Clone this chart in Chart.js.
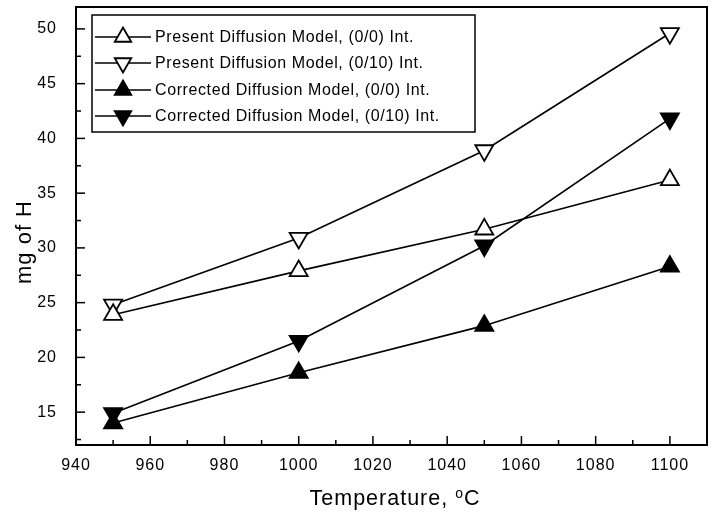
<!DOCTYPE html>
<html>
<head>
<meta charset="utf-8">
<script src="https://cdn.jsdelivr.net/npm/chart.js@4/dist/chart.umd.min.js"></script>
<style>
  html, body { margin: 0; padding: 0; background: #fff; }
  #wrap { width: 712px; height: 517px; position: relative; }
</style>
</head>
<body>
<div id="wrap"><canvas id="c" width="712" height="517"></canvas></div>
<script>
const temperatures = [950, 1000, 1050, 1100];
const presentInt0 = [23.9, 27.9, 31.7, 36.2];
const presentInt10 = [24.8, 30.9, 38.9, 49.6];
const correctedInt0 = [14.0, 18.6, 22.9, 28.3];
const correctedInt10 = [14.9, 21.5, 30.2, 41.8];
const xTickValues = [940, 960, 980, 1000, 1020, 1040, 1060, 1080, 1100];
const yTickValues = [15, 20, 25, 30, 35, 40, 45, 50];
const seriesLabels = [
  'Present Diffusion Model, (0/0) Int.',
  'Present Diffusion Model, (0/10) Int.',
  'Corrected Diffusion Model, (0/0) Int.',
  'Corrected Diffusion Model, (0/10) Int.'
];
const xTitle = 'Temperature, ';
const yTitle = 'mg of H';

const FONT = '"Liberation Sans", Arial, Helvetica, sans-serif';

function pts(vals) { return temperatures.map((t, i) => ({x: t, y: vals[i]})); }

const styles = [
  {fill: '#fff', rot: 0},
  {fill: '#fff', rot: 180},
  {fill: '#000', rot: 0},
  {fill: '#000', rot: 180}
];
const allVals = [presentInt0, presentInt10, correctedInt0, correctedInt10];

const datasets = allVals.map((v, i) => ({
  label: seriesLabels[i],
  data: pts(v),
  borderColor: '#000',
  borderWidth: 1.6,
  pointStyle: 'triangle',
  pointRotation: styles[i].rot,
  pointRadius: 10.4,
  pointHoverRadius: 10.4,
  pointBackgroundColor: styles[i].fill,
  pointBorderColor: '#000',
  pointBorderWidth: 1.8,
  tension: 0,
  fill: false,
  clip: false
}));

function drawTri(ctx, x, y, r, rot, fill) {
  ctx.save();
  ctx.translate(x, y);
  ctx.rotate(rot * Math.PI / 180);
  ctx.beginPath();
  for (let k = 0; k < 3; k++) {
    const a = -Math.PI / 2 + k * 2 * Math.PI / 3;
    const px = r * Math.cos(a), py = r * Math.sin(a);
    if (k === 0) ctx.moveTo(px, py); else ctx.lineTo(px, py);
  }
  ctx.closePath();
  ctx.fillStyle = fill;
  ctx.fill();
  ctx.lineWidth = 1.8;
  ctx.strokeStyle = '#000';
  ctx.stroke();
  ctx.restore();
}

const spacingPlugin = {
  id: 'spacing',
  beforeLayout(chart) { chart.ctx.letterSpacing = '1px'; },
  beforeDraw(chart) { chart.ctx.letterSpacing = '1px'; }
};

const framePlugin = {
  id: 'frame',
  afterDraw(chart) {
    const {ctx, chartArea: a, scales} = chart;
    const xs = scales.x, ys = scales.y;
    ctx.save();
    ctx.letterSpacing = '1px';
    ctx.strokeStyle = '#000';
    ctx.lineWidth = 2;
    ctx.strokeRect(a.left, a.top, a.right - a.left, a.bottom - a.top);
    ctx.lineWidth = 1.5;
    for (let v = 950; v <= 1100; v += 10) {
      const px = xs.getPixelForValue(v);
      const len = (v % 20 === 0) ? 9 : 5;
      ctx.beginPath(); ctx.moveTo(px, a.bottom); ctx.lineTo(px, a.bottom - len); ctx.stroke();
    }
    for (let v = 12.5; v <= 51; v += 2.5) {
      const py = ys.getPixelForValue(v);
      const len = (v % 5 === 0) ? 9 : 5;
      ctx.beginPath(); ctx.moveTo(a.left, py); ctx.lineTo(a.left + len, py); ctx.stroke();
    }
    // x title
    ctx.fillStyle = '#000';
    ctx.textBaseline = 'alphabetic';
    ctx.textAlign = 'left';
    ctx.font = '21.5px ' + FONT;
    const w1 = ctx.measureText(xTitle).width;
    const wc = ctx.measureText('C').width;
    ctx.font = '14px ' + FONT;
    const wo = ctx.measureText('o').width;
    const total = w1 + wo + wc;
    const sx = 395 - total / 2;
    const by = 505;
    ctx.font = '21.5px ' + FONT;
    ctx.fillText(xTitle, sx, by);
    ctx.font = '14px ' + FONT;
    ctx.fillText('o', sx + w1, by - 7);
    ctx.font = '21.5px ' + FONT;
    ctx.fillText('C', sx + w1 + wo, by);
    // y title
    ctx.save();
    ctx.translate(31, 242);
    ctx.rotate(-Math.PI / 2);
    ctx.textAlign = 'center';
    ctx.font = '22px ' + FONT;
    ctx.fillText(yTitle, 0, 0);
    ctx.restore();
    // legend
    const lx = 92, ly = 15, lw = 383, lh = 117;
    ctx.fillStyle = '#fff';
    ctx.fillRect(lx, ly, lw, lh);
    ctx.lineWidth = 1.5;
    ctx.strokeStyle = '#000';
    ctx.strokeRect(lx, ly, lw, lh);
    const rowsY = [37, 63, 90, 116];
    ctx.font = '16px ' + FONT;
    ctx.letterSpacing = '0.6px';
    ctx.textBaseline = 'middle';
    ctx.textAlign = 'left';
    seriesLabels.forEach((lab, i) => {
      const y = rowsY[i];
      ctx.lineWidth = 1.6;
      ctx.beginPath(); ctx.moveTo(95, y); ctx.lineTo(151, y); ctx.stroke();
      drawTri(ctx, 123, y, 9.5, styles[i].rot, styles[i].fill);
      ctx.fillStyle = '#000';
      ctx.fillText(lab, 155, y + 1);
    });
    ctx.restore();
  }
};

new Chart(document.getElementById('c'), {
  type: 'line',
  data: {datasets},
  options: {
    responsive: false,
    animation: false,
    layout: {autoPadding: false, padding: {left: 0, right: 5, top: 7, bottom: 0}},
    plugins: {legend: {display: false}, tooltip: {enabled: false}},
    scales: {
      x: {
        type: 'linear', min: 940, max: 1110,
        grid: {display: false}, border: {display: false},
        afterBuildTicks(s) { s.ticks = xTickValues.map(v => ({value: v})); },
        ticks: {color: '#000', font: {family: FONT, size: 16}, padding: 3, maxRotation: 0, autoSkip: false,
                callback: v => String(v)},
        afterFit(s) { s.height = 72; s.paddingLeft = 0; s.paddingRight = 0; }
      },
      y: {
        min: 12, max: 52,
        grid: {display: false}, border: {display: false},
        afterBuildTicks(s) { s.ticks = yTickValues.map(v => ({value: v})); },
        ticks: {color: '#000', font: {family: FONT, size: 16}, padding: 11, autoSkip: false,
                callback: v => String(v)},
        afterFit(s) { s.width = 76; s.paddingTop = 0; s.paddingBottom = 0; }
      }
    }
  },
  plugins: [spacingPlugin, framePlugin]
});
</script>
</body>
</html>
